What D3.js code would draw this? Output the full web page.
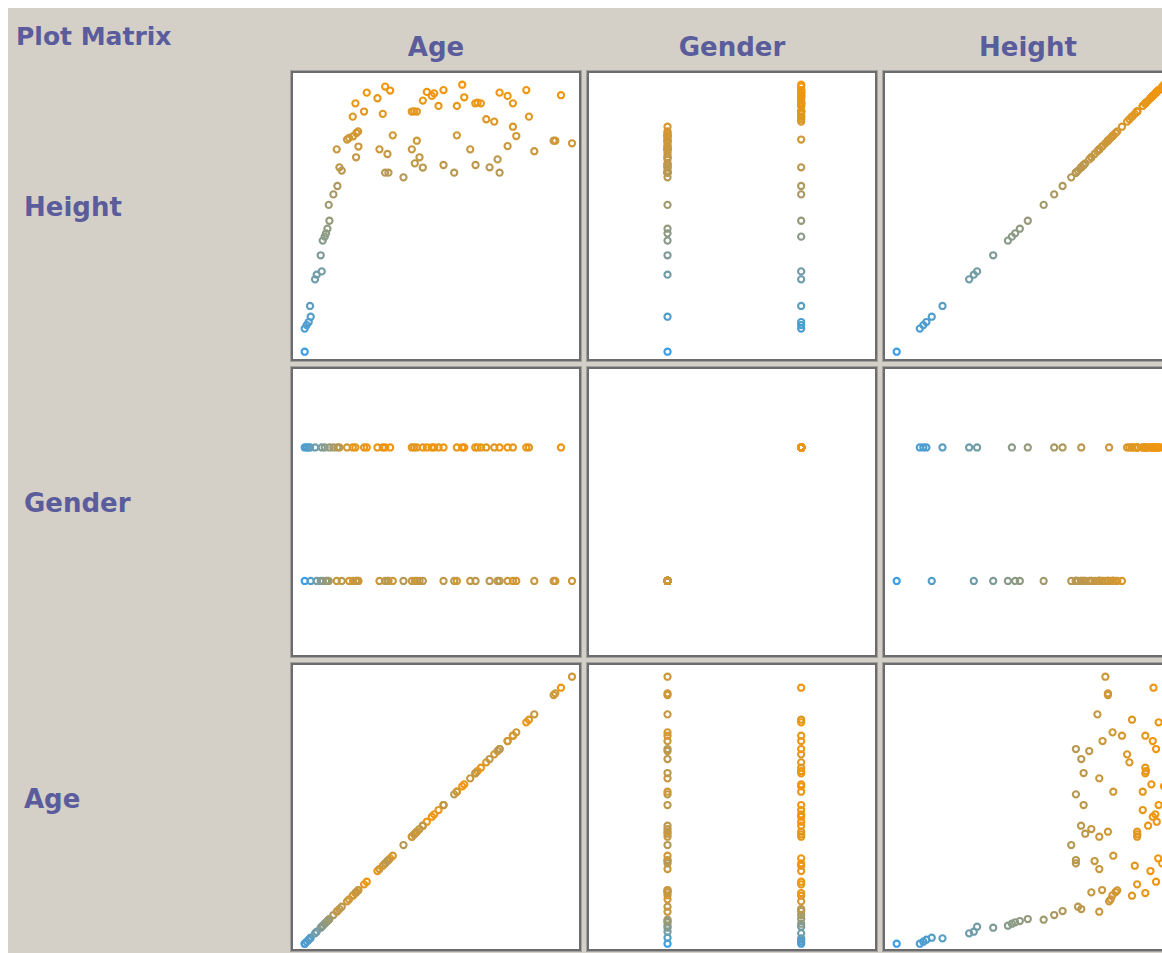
<!DOCTYPE html>
<html>
<head>
<meta charset="utf-8">
<script src="https://cdn.jsdelivr.net/npm/d3@7"></script>
<style>
html, body { margin: 0; padding: 0; overflow: hidden; background: #ffffff; }
svg { display: block; }
</style>
</head>
<body>
<svg id="chart" width="1162" height="953"></svg>
<script>
// ---- Data (one entry per person) ----
const ages = [
  2.0, 2.0, 2.6, 3.2, 3.8, 3.6, 5.1, 5.6, 7.1, 6.8, 7.4, 8.0, 8.4, 8.8, 9.4, 9.2, 10.6, 11.8, 12.4, 13.1,
  14.7, 16.4, 17.2, 19.8, 20.6, 23.8, 25.4, 26.1, 27.6, 34.1, 34.8, 35.6, 37.4, 38.6, 40.1, 40.8, 42.1, 43.6,
  47.6, 49.2, 49.8, 53.1, 53.8, 54.8, 56.4, 58.8, 60.4, 62.8, 64.4, 68.4, 69.2, 78.8,
  11.6, 15.3, 16.5, 17.5, 18.0, 18.1, 17.4, 24.4, 26.8, 26.1, 27.1, 28.4, 31.6, 34.1, 35.0, 35.6, 36.4, 37.4,
  43.6, 46.8, 47.6, 51.6, 53.2, 57.4, 59.8, 60.4, 62.8, 64.4, 65.4, 70.8, 76.6, 77.1, 82.1
];
const genders = [
  0, 1, 1, 1, 0, 1, 1, 0, 1, 0, 0, 1, 0, 0, 1, 0, 1, 1, 1, 0,
  1, 1, 1, 1, 1, 1, 1, 1, 1, 1, 1, 1, 1, 1, 1, 1, 1, 1,
  1, 1, 1, 1, 1, 1, 1, 1, 1, 1, 1, 1, 1, 1,
  0, 0, 0, 0, 0, 0, 0, 0, 0, 0, 0, 0, 0, 0, 0, 0, 0, 0,
  0, 0, 0, 0, 0, 0, 0, 0, 0, 0, 0, 0, 0, 0, 0
];
const heights = [
  80.0, 89.9, 91.4, 92.7, 95.0, 99.6, 111.0, 113.0, 114.4, 121.3, 127.6, 129.3, 130.7, 132.7, 136.1, 142.9, 147.4, 151.0, 159.0, 157.6,
  170.9, 180.7, 186.4, 182.9, 191.0, 188.6, 181.9, 193.6, 191.9, 182.9, 183.0, 182.9, 187.6, 191.3, 189.6, 190.7, 185.3, 192.1,
  185.3, 194.4, 189.0, 186.4, 186.7, 186.4, 179.6, 178.6, 191.0, 189.6, 186.4, 192.1, 180.7, 189.9,
  166.7, 171.6, 172.3, 173.7, 174.4, 167.9, 163.3, 166.7, 164.7, 156.7, 156.7, 172.7, 154.7, 166.7, 160.7, 170.4, 163.3, 158.9,
  160.0, 156.7, 172.7, 166.7, 160.0, 159.0, 162.4, 156.7, 168.1, 176.4, 172.4, 165.9, 170.4, 170.4, 169.3
];
const genderCodes = [0, 1];           // 0 = Female, 1 = Male
const rowVars = ["Height", "Gender", "Age"];
const colVars = ["Age", "Gender", "Height"];
const titleText = "Plot Matrix";

// ---- Build records ----
const people = ages.map((a, i) => ({ Age: a, Gender: genders[i], Height: heights[i] }));

const domains = {
  Age: d3.extent(ages),
  Height: d3.extent(heights),
  Gender: [d3.min(genderCodes) - 0.5, d3.max(genderCodes) + 0.5]
};

const color = d3.scaleLinear()
  .domain(d3.extent(heights))
  .range(["#3a9ee6", "#f5960a"])
  .interpolate(d3.interpolateRgb);

const svg = d3.select("#chart");
const W = 1162, H = 953;
const cell = 292, gap = 4;
const left0 = 290, top0 = 70;
const padLo = 14.7, padHi = 10;
const textColor = "#5a5c9c";
const font = "'DejaVu Sans', Verdana, sans-serif";

// background
svg.append("rect").attr("x", 0).attr("y", 0).attr("width", W).attr("height", H).attr("fill", "#ffffff");
svg.append("rect").attr("x", 8).attr("y", 8).attr("width", W - 8).attr("height", H - 8).attr("fill", "#d4d0c8");

// title
svg.append("text").attr("x", 16).attr("y", 45)
  .attr("font-family", font).attr("font-weight", "bold").attr("font-size", 25)
  .attr("fill", textColor).text(titleText);

// column headers
colVars.forEach((v, c) => {
  svg.append("text")
    .attr("x", left0 + c * (cell + gap) + cell / 2)
    .attr("y", 56)
    .attr("text-anchor", "middle")
    .attr("font-family", font).attr("font-weight", "bold").attr("font-size", 26)
    .attr("fill", textColor).text(v);
});

// row labels
rowVars.forEach((v, r) => {
  svg.append("text")
    .attr("x", 24)
    .attr("y", top0 + r * (cell + gap) + cell / 2 - 0.5)
    .attr("font-family", font).attr("font-weight", "bold").attr("font-size", 26)
    .attr("fill", textColor).text(v);
});

// panels
rowVars.forEach((yv, r) => {
  colVars.forEach((xv, c) => {
    const px = left0 + c * (cell + gap);
    const py = top0 + r * (cell + gap);
    const ph = Math.min(cell, H - py - 1);
    const g = svg.append("g").attr("transform", `translate(${px},${py})`);

    g.append("rect").attr("x", 0).attr("y", 0).attr("width", cell).attr("height", ph).attr("fill", "#ffffff");
    g.append("rect").attr("x", 0.5).attr("y", 0.5).attr("width", cell - 1).attr("height", ph - 1)
      .attr("fill", "none").attr("stroke", "#a2a2a2").attr("stroke-width", 1);
    g.append("rect").attr("x", 2).attr("y", 2).attr("width", cell - 4).attr("height", ph - 4)
      .attr("fill", "none").attr("stroke", "#6c6c6c").attr("stroke-width", 2);

    const xs = d3.scaleLinear().domain(domains[xv]).range([padLo, cell - padHi]);
    const ys = d3.scaleLinear().domain(domains[yv]).range([cell - padHi - 0.3, padLo]);

    g.selectAll("circle").data(people).join("circle")
      .attr("cx", d => xs(d[xv]))
      .attr("cy", d => ys(d[yv]))
      .attr("r", 3.1)
      .attr("fill", "none")
      .attr("stroke", d => color(d.Height))
      .attr("stroke-width", 2.1);
  });
});
</script>
</body>
</html>
